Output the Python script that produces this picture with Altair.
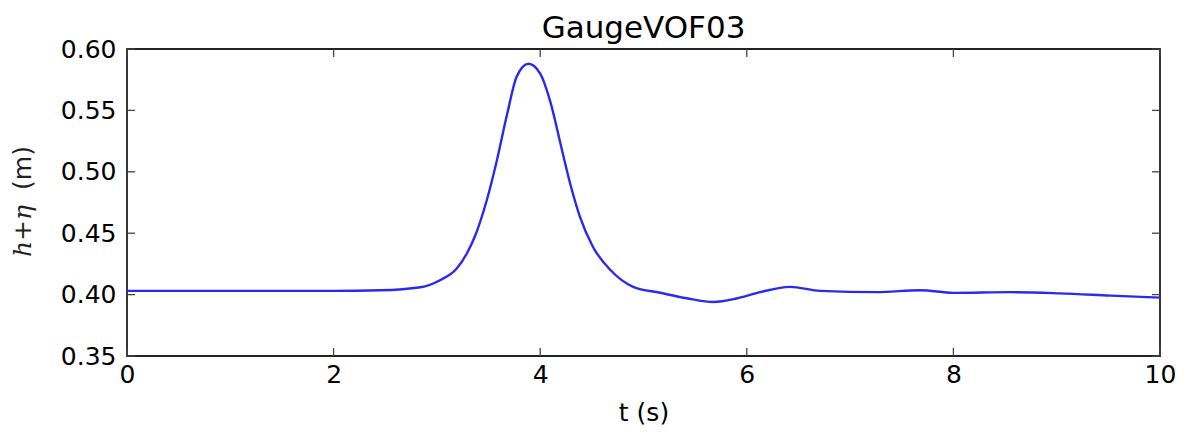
import altair as alt
import pandas as pd

t_vals = [0, 1, 2, 2.45, 2.84, 3.03, 3.19, 3.29, 3.38, 3.48, 3.58, 3.68, 3.77, 3.885,
          4.0, 4.095, 4.21, 4.29, 4.385, 4.51, 4.68, 4.90, 5.16, 5.42, 5.68, 5.90,
          6.13, 6.42, 6.71, 7.26, 7.68, 8.0, 8.55, 9.03, 9.52, 10.0]
h_vals = [0.403, 0.403, 0.403, 0.4035, 0.406, 0.4117, 0.421, 0.4335, 0.450, 0.476,
          0.509, 0.547, 0.577, 0.588, 0.580, 0.558, 0.518, 0.4905, 0.4633, 0.439,
          0.420, 0.4063, 0.4015, 0.397, 0.394, 0.3968, 0.402, 0.4063, 0.403, 0.402,
          0.4036, 0.4014, 0.402, 0.401, 0.3992, 0.3975]
x_ticks = [0, 2, 4, 6, 8, 10]
y_ticks = [0.35, 0.40, 0.45, 0.50, 0.55, 0.60]

W, H = 1033, 307
TL = 8
FONT = "DejaVu Sans"

df = pd.DataFrame({"t": t_vals, "h": h_vals})
xt = pd.DataFrame({"t": x_ticks})
yt = pd.DataFrame({"h": y_ticks})

xscale = alt.Scale(domain=[0, 10], nice=False, zero=False)
yscale = alt.Scale(domain=[0.35, 0.60], nice=False, zero=False)

xaxis = alt.Axis(values=x_ticks, format="d", domain=False, ticks=False, grid=False,
                 labelFont=FONT, labelFontSize=25, labelColor="black", labelPadding=6,
                 labelFlush=False, labelOverlap=False,
                 title="t (s)", titleFont=FONT, titleFontSize=25, titleFontWeight="normal",
                 titleColor="black", titleY=56, titleBaseline="middle")
yaxis = alt.Axis(values=y_ticks, format=".2f", domain=False, ticks=False, grid=False,
                 labelFont=FONT, labelFontSize=25, labelColor="black", labelPadding=11,
                 labelFlush=False, labelOverlap=False, title=None)

line = alt.Chart(df).mark_line(color="#2a2aee", strokeWidth=2.4, interpolate="monotone").encode(
    x=alt.X("t:Q", scale=xscale, axis=xaxis),
    y=alt.Y("h:Q", scale=yscale, axis=yaxis),
)

tick_style = dict(color="#444444", strokeWidth=1.3)
left_ticks = alt.Chart(yt).mark_rule(**tick_style).encode(
    y=alt.Y("h:Q", scale=yscale), x=alt.value(0), x2=alt.value(TL))
right_ticks = alt.Chart(yt).mark_rule(**tick_style).encode(
    y=alt.Y("h:Q", scale=yscale), x=alt.value(W - TL), x2=alt.value(W))
bottom_ticks = alt.Chart(xt).mark_rule(**tick_style).encode(
    x=alt.X("t:Q", scale=xscale), y=alt.value(H - TL), y2=alt.value(H))
top_ticks = alt.Chart(xt).mark_rule(**tick_style).encode(
    x=alt.X("t:Q", scale=xscale), y=alt.value(0), y2=alt.value(TL))

ytitle_math = alt.Chart(pd.DataFrame({"s": ["h+η"]})).mark_text(
    font="DejaVu Serif", fontStyle="italic", fontSize=25, angle=270,
    align="center", baseline="middle", color="#222222"
).encode(text="s:N", x=alt.value(-104), y=alt.value(182))
ytitle_unit = alt.Chart(pd.DataFrame({"s": ["(m)"]})).mark_text(
    font=FONT, fontSize=25, angle=270,
    align="center", baseline="middle", color="#222222"
).encode(text="s:N", x=alt.value(-104), y=alt.value(119))

chart = alt.layer(line, left_ticks, right_ticks, bottom_ticks, top_ticks,
                  ytitle_math, ytitle_unit).properties(
    width=W, height=H,
    title=alt.TitleParams("GaugeVOF03", font=FONT, fontSize=31, fontWeight="normal",
                          color="black", anchor="middle", offset=0, dy=8),
    autosize=alt.AutoSizeParams(type="none"),
    padding={"left": 119, "top": 41, "right": 17, "bottom": 70},
    background="white",
).configure_view(stroke="#222222", strokeWidth=1.8)

chart.save("out.html", embed_options={"renderer": "svg", "actions": False})
